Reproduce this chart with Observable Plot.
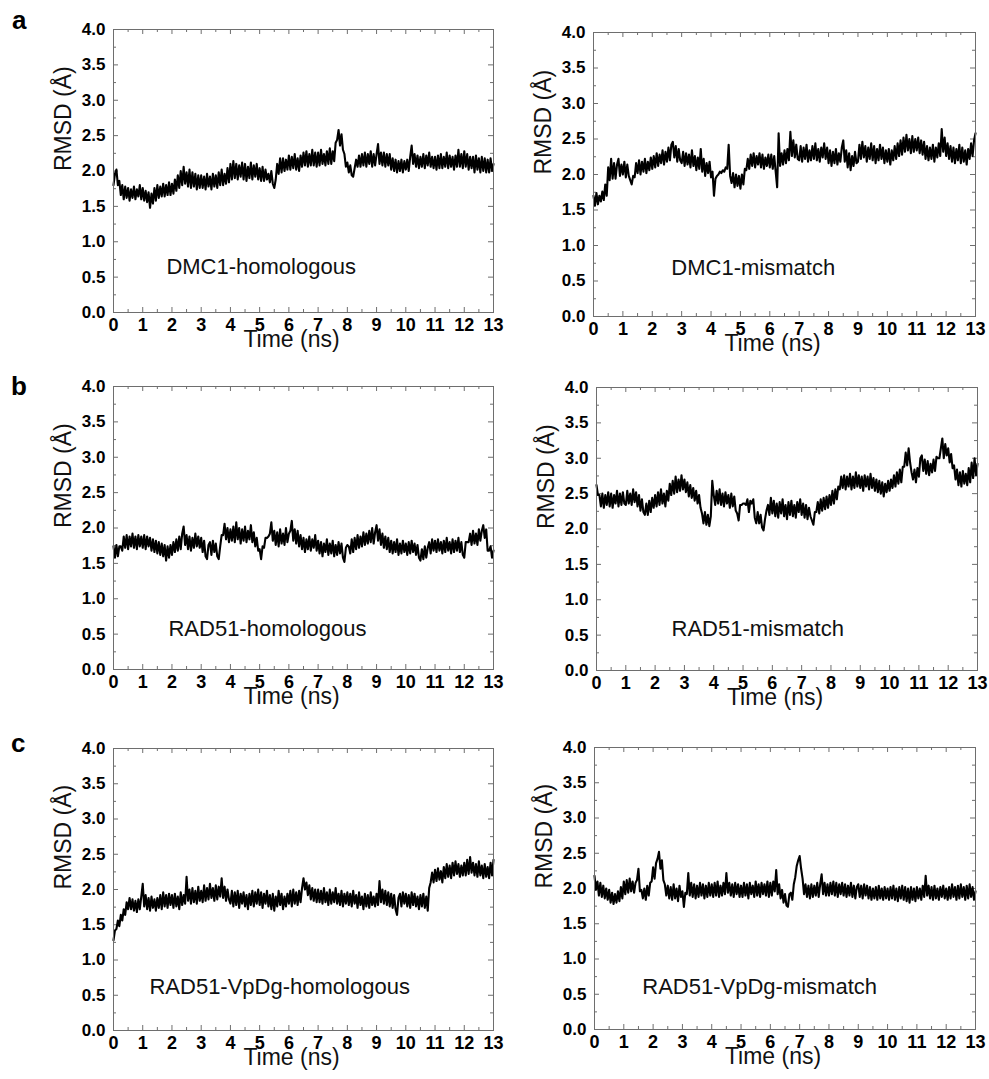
<!DOCTYPE html>
<html><head><meta charset="utf-8">
<script src="https://cdn.jsdelivr.net/npm/d3@7"></script>
<script src="https://cdn.jsdelivr.net/npm/@observablehq/plot@0.6"></script>
<style>
body{margin:0;background:#fff;}
#wrap{position:relative;width:989px;height:1079px;overflow:hidden;font-family:"Liberation Sans",Arial,sans-serif;background:#fff;}
.panel{position:absolute;}
.lab{position:absolute;font-weight:bold;font-size:26px;line-height:1;color:#000;}
</style></head><body><div id="wrap"></div>
<script>
// ---- data: sampling times (ns) ----
const timeNs = [
0,0.05,0.1,0.15,0.2,0.25,0.3,0.35,0.4,0.45,0.5,0.55,0.6,0.65,0.7,0.75,0.8,0.85,0.9,0.95,
1,1.05,1.1,1.15,1.2,1.25,1.3,1.35,1.4,1.45,1.5,1.55,1.6,1.65,1.7,1.75,1.8,1.85,1.9,1.95,
2,2.05,2.1,2.15,2.2,2.25,2.3,2.35,2.4,2.45,2.5,2.55,2.6,2.65,2.7,2.75,2.8,2.85,2.9,2.95,
3,3.05,3.1,3.15,3.2,3.25,3.3,3.35,3.4,3.45,3.5,3.55,3.6,3.65,3.7,3.75,3.8,3.85,3.9,3.95,
4,4.05,4.1,4.15,4.2,4.25,4.3,4.35,4.4,4.45,4.5,4.55,4.6,4.65,4.7,4.75,4.8,4.85,4.9,4.95,
5,5.05,5.1,5.15,5.2,5.25,5.3,5.35,5.4,5.45,5.5,5.55,5.6,5.65,5.7,5.75,5.8,5.85,5.9,5.95,
6,6.05,6.1,6.15,6.2,6.25,6.3,6.35,6.4,6.45,6.5,6.55,6.6,6.65,6.7,6.75,6.8,6.85,6.9,6.95,
7,7.05,7.1,7.15,7.2,7.25,7.3,7.35,7.4,7.45,7.5,7.55,7.6,7.65,7.7,7.75,7.8,7.85,7.9,7.95,
8,8.05,8.1,8.15,8.2,8.25,8.3,8.35,8.4,8.45,8.5,8.55,8.6,8.65,8.7,8.75,8.8,8.85,8.9,8.95,
9,9.05,9.1,9.15,9.2,9.25,9.3,9.35,9.4,9.45,9.5,9.55,9.6,9.65,9.7,9.75,9.8,9.85,9.9,9.95,
10,10.05,10.1,10.15,10.2,10.25,10.3,10.35,10.4,10.45,10.5,10.55,10.6,10.65,10.7,10.75,10.8,10.85,10.9,10.95,
11,11.05,11.1,11.15,11.2,11.25,11.3,11.35,11.4,11.45,11.5,11.55,11.6,11.65,11.7,11.75,11.8,11.85,11.9,11.95,
12,12.05,12.1,12.15,12.2,12.25,12.3,12.35,12.4,12.45,12.5,12.55,12.6,12.65,12.7,12.75,12.8,12.85,12.9,12.95,
13];

// ---- data: RMSD (Å) ----
const rmsdDmc1Homologous = [
1.80,1.96,2.02,1.80,1.86,1.66,1.80,1.60,1.78,1.62,1.76,1.58,1.74,1.62,1.78,1.60,1.74,1.64,1.80,1.60,
1.76,1.58,1.72,1.56,1.70,1.48,1.68,1.54,1.76,1.58,1.80,1.62,1.78,1.64,1.82,1.64,1.80,1.66,1.84,1.66,
1.82,1.68,1.88,1.72,1.94,1.76,2.00,1.80,2.06,1.82,1.98,1.78,2.02,1.76,1.98,1.78,1.96,1.74,1.94,1.76,
1.94,1.76,1.92,1.74,1.96,1.78,1.92,1.74,1.96,1.78,1.94,1.76,1.98,1.80,2.02,1.80,1.96,1.82,2.04,1.84,
2.10,1.88,2.14,1.90,2.10,1.88,2.08,1.92,2.12,1.88,2.10,1.86,2.06,1.90,2.12,1.88,2.08,1.92,2.10,1.88,
2.04,1.86,2.06,1.86,2.02,1.88,1.96,1.84,2.00,1.82,1.76,1.88,2.10,1.96,2.18,1.98,2.18,2.00,2.16,2.02,
2.22,2.02,2.20,2.04,2.24,2.02,2.18,2.00,2.22,2.06,2.26,2.08,2.28,2.06,2.24,2.08,2.30,2.08,2.26,2.06,
2.26,2.08,2.30,2.10,2.24,2.08,2.28,2.10,2.32,2.10,2.28,2.14,2.40,2.44,2.58,2.36,2.52,2.30,2.24,2.06,
2.12,1.98,2.08,1.94,1.92,2.04,2.16,2.06,2.22,2.06,2.24,2.08,2.26,2.06,2.24,2.10,2.28,2.06,2.24,2.08,
2.24,2.38,2.10,2.26,2.08,2.26,2.06,2.24,2.08,2.24,2.02,2.18,2.00,2.16,1.98,2.14,2.00,2.16,1.98,2.14,
2.02,2.16,2.00,2.20,2.36,2.10,2.24,2.06,2.22,2.04,2.20,2.06,2.24,2.04,2.22,2.08,2.26,2.06,2.20,2.04,
2.20,2.02,2.22,2.04,2.24,2.04,2.20,2.06,2.26,2.04,2.22,2.06,2.20,2.02,2.22,2.06,2.30,2.06,2.24,2.04,
2.28,2.06,2.24,2.02,2.20,2.04,2.20,1.98,2.22,2.02,2.18,1.98,2.20,2.00,2.18,1.98,2.16,1.98,2.18,2.00,
2.10];

const rmsdDmc1Mismatch = [
1.70,1.56,1.74,1.58,1.70,1.62,1.76,1.64,1.86,1.70,2.10,1.92,2.22,1.94,2.16,1.94,2.14,2.22,1.98,2.14,
2.00,2.18,1.96,2.14,1.98,1.92,1.86,1.98,1.96,2.16,2.02,2.20,2.00,2.18,2.04,2.22,2.02,2.18,2.06,2.24,
2.08,2.26,2.10,2.30,2.12,2.28,2.16,2.34,2.14,2.32,2.18,2.38,2.20,2.42,2.46,2.24,2.40,2.18,2.36,2.20,
2.16,2.32,2.12,2.30,2.14,2.28,2.10,2.34,2.12,2.26,2.06,2.24,2.08,2.36,2.04,2.22,1.98,2.16,2.02,2.18,
1.96,2.04,1.70,1.94,1.98,2.00,2.04,2.02,2.06,2.04,2.10,2.08,2.42,1.98,1.88,2.02,1.82,2.00,1.84,1.98,
1.80,2.00,1.86,2.08,2.06,2.22,2.08,2.28,2.12,2.30,2.10,2.26,2.14,2.30,2.10,2.28,2.08,2.24,2.12,2.28,
2.10,2.28,2.08,2.26,2.04,1.82,2.58,2.12,2.30,2.14,2.34,2.16,2.36,2.20,2.60,2.26,2.48,2.24,2.42,2.22,
2.20,2.40,2.18,2.38,2.22,2.42,2.18,2.34,2.20,2.40,2.22,2.44,2.20,2.36,2.18,2.38,2.24,2.44,2.22,2.38,
2.16,2.34,2.12,2.32,2.16,2.36,2.14,2.30,2.18,2.38,2.48,2.18,2.34,2.10,2.30,2.06,2.26,2.12,2.32,2.16,
2.18,2.42,2.22,2.46,2.24,2.40,2.18,2.38,2.22,2.44,2.20,2.40,2.16,2.36,2.20,2.42,2.22,2.38,2.16,2.34,
2.18,2.36,2.14,2.34,2.20,2.40,2.22,2.44,2.26,2.48,2.28,2.52,2.32,2.56,2.34,2.50,2.30,2.54,2.32,2.50,
2.34,2.52,2.30,2.48,2.28,2.46,2.22,2.40,2.20,2.38,2.22,2.42,2.18,2.38,2.24,2.44,2.26,2.64,2.32,2.52,
2.26,2.44,2.22,2.40,2.18,2.38,2.16,2.36,2.20,2.42,2.16,2.38,2.18,2.34,2.14,2.36,2.22,2.44,2.26,2.48,
2.58];

const rmsdRad51Homologous = [
1.74,1.58,1.76,1.60,1.74,1.74,1.68,1.88,1.72,1.90,1.70,1.88,1.74,1.92,1.72,1.88,1.70,1.90,1.74,1.88,
1.72,1.90,1.70,1.88,1.74,1.86,1.68,1.84,1.66,1.82,1.64,1.80,1.62,1.78,1.60,1.76,1.54,1.74,1.58,1.76,
1.62,1.80,1.66,1.84,1.68,1.88,1.70,1.92,2.02,1.76,1.90,1.70,1.88,1.68,1.86,1.72,1.92,1.74,1.88,1.72,
1.86,1.66,1.82,1.60,1.56,1.76,1.80,1.62,1.82,1.66,1.78,1.60,1.56,1.74,1.90,1.90,2.06,1.84,2.00,1.80,
1.98,1.82,2.02,1.80,2.08,1.84,2.00,1.78,1.98,1.82,2.02,1.80,1.96,1.84,2.04,1.80,1.94,1.74,1.86,1.68,
1.70,1.56,1.74,1.72,1.86,1.86,1.88,1.92,2.08,1.82,1.96,1.76,1.94,1.74,1.98,1.78,1.92,1.76,2.00,1.80,
1.92,1.96,2.10,1.82,1.98,1.78,1.96,1.74,1.90,1.70,1.86,1.66,1.84,1.70,1.88,1.68,1.84,1.72,1.90,1.68,
1.82,1.64,1.80,1.60,1.78,1.66,1.84,1.62,1.78,1.64,1.82,1.60,1.76,1.62,1.80,1.64,1.78,1.58,1.52,1.72,
1.76,1.74,1.64,1.84,1.66,1.86,1.70,1.90,1.72,1.88,1.74,1.94,1.76,1.92,1.78,1.96,1.80,2.00,1.78,1.94,
2.04,1.82,1.98,1.76,1.92,1.72,1.88,1.70,1.86,1.66,1.82,1.64,1.80,1.66,1.84,1.62,1.78,1.64,1.82,1.66,
1.78,1.62,1.80,1.64,1.82,1.66,1.78,1.62,1.76,1.58,1.54,1.70,1.56,1.74,1.58,1.72,1.80,1.64,1.84,1.68,
1.82,1.66,1.84,1.68,1.80,1.64,1.82,1.66,1.86,1.68,1.80,1.64,1.84,1.66,1.82,1.68,1.86,1.66,1.80,1.62,
1.58,1.80,1.80,1.80,1.92,1.76,1.96,1.78,1.92,1.76,1.98,1.82,1.96,2.04,1.86,1.98,1.68,1.68,1.74,1.58,
1.68];

const rmsdRad51Mismatch = [
2.62,2.48,2.48,2.32,2.50,2.30,2.48,2.34,2.52,2.32,2.50,2.30,2.48,2.36,2.54,2.32,2.50,2.34,2.52,2.36,
2.34,2.54,2.36,2.50,2.34,2.56,2.38,2.52,2.32,2.48,2.26,2.42,2.24,2.20,2.36,2.20,2.40,2.24,2.44,2.30,
2.48,2.32,2.52,2.34,2.56,2.36,2.50,2.32,2.54,2.40,2.64,2.48,2.68,2.50,2.74,2.52,2.70,2.54,2.76,2.56,
2.70,2.52,2.66,2.46,2.62,2.44,2.58,2.40,2.54,2.36,2.48,2.30,2.22,2.08,2.24,2.06,2.20,2.04,2.18,2.68,
2.48,2.34,2.54,2.36,2.56,2.34,2.50,2.32,2.52,2.36,2.48,2.30,2.50,2.32,2.46,2.26,2.22,2.12,2.34,2.34,
2.36,2.36,2.34,2.42,2.24,2.40,2.36,2.42,2.16,2.08,2.24,2.08,2.20,2.02,1.98,2.14,2.26,2.34,2.20,2.44,
2.22,2.40,2.18,2.36,2.16,2.38,2.22,2.42,2.18,2.34,2.14,2.38,2.20,2.40,2.18,2.34,2.16,2.38,2.24,2.42,
2.20,2.36,2.16,2.34,2.14,2.30,2.18,2.12,2.06,2.24,2.24,2.38,2.22,2.42,2.26,2.44,2.28,2.46,2.30,2.48,
2.34,2.54,2.36,2.56,2.42,2.60,2.56,2.74,2.58,2.76,2.56,2.74,2.60,2.78,2.56,2.74,2.58,2.80,2.60,2.76,
2.58,2.74,2.54,2.76,2.60,2.74,2.56,2.78,2.58,2.72,2.54,2.70,2.52,2.68,2.50,2.66,2.46,2.64,2.52,2.68,
2.54,2.70,2.58,2.76,2.60,2.80,2.64,2.84,2.66,2.88,2.88,3.08,2.90,3.14,2.94,2.80,2.70,2.84,2.66,2.86,
2.74,3.00,3.04,2.82,2.98,2.78,2.96,2.76,2.92,2.80,2.98,2.82,3.02,3.00,3.00,3.14,3.28,3.00,3.20,3.04,
3.14,2.94,3.06,2.86,2.90,2.70,2.84,2.62,2.80,2.60,2.82,2.64,2.78,2.62,2.86,2.66,2.94,2.72,3.00,2.76,
2.92];

const rmsdVpdgHomologous = [
1.28,1.42,1.44,1.56,1.48,1.64,1.56,1.72,1.64,1.82,1.72,1.88,1.72,1.86,1.70,1.84,1.68,1.86,1.72,1.90,
2.08,1.76,1.92,1.72,1.88,1.70,1.90,1.74,1.86,1.70,1.88,1.74,1.92,1.72,1.96,1.76,1.92,1.74,1.94,1.78,
1.92,1.74,1.94,1.76,1.90,1.72,1.96,1.78,1.92,1.80,2.18,1.84,2.00,1.80,2.02,1.82,1.98,1.80,2.04,1.84,
1.98,1.82,2.06,1.84,2.02,1.86,2.08,1.88,2.02,1.84,2.06,1.86,2.04,1.90,2.16,1.88,2.04,1.84,2.00,1.86,
1.80,1.98,1.76,1.96,1.78,1.98,1.74,1.94,1.80,1.96,1.76,1.92,1.72,1.94,1.78,1.98,1.76,1.96,1.80,2.00,
1.78,1.96,1.74,1.94,1.80,1.98,1.76,1.92,1.72,1.94,1.70,1.90,1.76,1.98,1.78,1.94,1.72,1.90,1.76,1.94,
1.80,1.98,1.76,2.00,1.80,1.96,1.78,1.98,1.82,2.02,2.16,2.00,2.10,1.92,2.06,1.86,2.02,1.84,2.00,1.82,
2.00,1.82,1.98,1.80,2.02,1.82,1.96,1.78,2.00,1.80,1.96,1.82,2.02,1.80,1.94,1.78,1.98,1.76,1.94,1.80,
1.96,1.78,1.94,1.76,1.98,1.80,1.92,1.74,1.96,1.78,1.90,1.72,1.94,1.76,1.92,1.74,1.96,1.78,1.90,1.76,
1.94,1.78,2.12,1.82,2.00,1.80,1.98,1.78,1.96,1.76,1.94,1.74,1.92,1.72,1.64,1.88,1.94,1.76,1.96,1.80,
1.94,1.76,1.92,1.74,1.96,1.78,1.94,1.76,1.90,1.72,1.92,1.76,1.94,1.74,1.90,1.70,2.02,2.10,2.24,2.10,
2.28,2.12,2.30,2.14,2.26,2.10,2.32,2.16,2.36,2.18,2.34,2.16,2.38,2.20,2.40,2.22,2.36,2.18,2.34,2.20,
2.38,2.20,2.42,2.22,2.46,2.24,2.38,2.20,2.36,2.18,2.40,2.20,2.34,2.16,2.36,2.18,2.32,2.16,2.38,2.20,
2.42];

const rmsdVpdgMismatch = [
2.18,1.98,2.10,1.90,2.08,1.88,2.04,1.86,2.00,1.84,1.98,1.80,1.94,1.78,1.92,1.80,1.96,1.82,2.02,1.86,
2.10,1.92,2.12,1.94,2.14,1.96,2.10,1.94,2.08,2.12,2.28,1.96,1.98,1.86,2.00,1.84,2.04,1.90,2.08,2.10,
2.30,2.14,2.36,2.42,2.52,2.28,2.40,2.12,2.06,1.90,2.04,1.86,2.02,1.84,2.06,1.86,2.00,1.82,2.04,1.88,
1.96,1.74,1.94,1.92,2.22,1.90,2.08,1.88,2.06,1.86,2.04,1.88,2.08,1.90,2.06,1.86,2.04,1.88,2.08,1.90,
2.06,1.88,2.08,1.90,2.10,1.88,2.04,1.90,2.08,1.92,2.22,1.94,2.08,1.90,2.06,1.88,2.08,1.92,2.06,1.88,
2.04,1.88,2.08,1.90,2.06,1.86,2.08,1.92,2.04,1.88,2.10,1.90,2.06,1.88,2.08,1.92,2.06,1.90,2.10,1.88,
2.08,1.90,2.10,1.96,2.26,1.92,2.06,1.86,1.98,1.80,1.92,1.76,1.74,1.92,1.94,1.84,2.06,2.16,2.32,2.40,
2.46,2.28,2.14,1.92,2.06,1.88,2.04,1.86,2.06,1.88,2.04,1.90,2.08,1.88,2.06,2.20,1.92,2.08,1.90,2.06,
1.90,2.08,1.92,2.10,1.90,2.08,1.88,2.06,1.92,2.08,1.90,2.06,1.88,2.04,1.90,2.08,1.88,2.04,1.86,2.02,
2.06,1.88,2.04,1.86,2.06,1.90,2.04,1.86,2.02,1.84,2.00,1.86,2.02,1.84,2.04,1.86,2.00,1.84,2.02,1.86,
2.00,1.84,2.02,1.86,2.04,1.84,2.00,1.82,2.02,1.86,2.04,1.84,2.02,1.82,2.00,1.80,2.02,1.84,2.00,1.82,
2.02,1.86,2.00,1.84,2.04,1.88,2.18,1.90,2.04,1.86,2.02,1.84,2.04,1.86,2.00,1.84,2.02,1.88,2.04,1.86,
2.00,1.84,2.02,1.86,2.06,1.88,2.02,1.84,2.04,1.86,2.06,1.88,2.02,1.84,2.04,1.86,2.06,1.88,2.02,1.84,
1.96];

const panelNames = ["DMC1-homologous","DMC1-mismatch","RAD51-homologous","RAD51-mismatch","RAD51-VpDg-homologous","RAD51-VpDg-mismatch"];
const panelSeries = [rmsdDmc1Homologous, rmsdDmc1Mismatch, rmsdRad51Homologous, rmsdRad51Mismatch, rmsdVpdgHomologous, rmsdVpdgMismatch];
const rowLetters = ["a","b","c"];
const xTickValues = [0,1,2,3,4,5,6,7,8,9,10,11,12,13];
const xMinorValues = [0.5,1.5,2.5,3.5,4.5,5.5,6.5,7.5,8.5,9.5,10.5,11.5,12.5];
const yTickValues = [0,0.5,1,1.5,2,2.5,3,3.5,4];
const yMinorValues = [0.25,0.75,1.25,1.75,2.25,2.75,3.25,3.75];
const xLabel = "Time (ns)";
const yLabel = "RMSD (Å)";

// ---- layout (pixels) ----
const geo = [
  {left:0,   W:500, x0:113, x1:493, yTop:29,  yBot:312,  lx:1.81, ly:0.54},
  {left:490, W:499, x0:593, x1:975, yTop:32,  yBot:316,  lx:2.65, ly:0.59},
  {left:0,   W:500, x0:113, x1:493, yTop:386, yBot:669,  lx:1.88, ly:0.48},
  {left:490, W:499, x0:596, x1:977, yTop:387, yBot:670,  lx:2.56, ly:0.49},
  {left:0,   W:500, x0:113, x1:493, yTop:748, yBot:1030, lx:1.23, ly:0.52},
  {left:490, W:499, x0:594, x1:975, yTop:747, yBot:1029, lx:1.63, ly:0.51}
];
const letterPos = [{x:12, y:7},{x:11, y:373},{x:11, y:730}];

const wrap = document.getElementById("wrap");
const frameColor = "#6e6e6e";
const fam = "'Liberation Sans', Arial, sans-serif";
const MT = 15, MB = 46;

panelSeries.forEach((vals, k) => {
  const g = geo[k];
  const data = timeNs.map((t, i) => ({t, v: vals[i]})).filter(d => d.v != null);
  const plotW = g.x1 - g.x0, plotH = g.yBot - g.yTop;
  const chart = Plot.plot({
    width: g.W,
    height: plotH + MT + MB,
    marginLeft: g.x0 - g.left,
    marginRight: g.left + g.W - g.x1,
    marginTop: MT,
    marginBottom: MB,
    style: {fontFamily: fam, background: "transparent", color: "#000", overflow: "visible"},
    x: {domain: [0, 13]},
    y: {domain: [0, 4]},
    marks: [
      Plot.ruleX(xTickValues, {insetTop: plotH - 5, stroke: frameColor}),
      Plot.ruleX(xTickValues, {insetBottom: plotH - 5, stroke: frameColor}),
      Plot.ruleX(xMinorValues, {insetTop: plotH - 3, stroke: frameColor}),
      Plot.ruleX(xMinorValues, {insetBottom: plotH - 3, stroke: frameColor}),
      Plot.ruleY(yTickValues, {insetRight: plotW - 5, stroke: frameColor}),
      Plot.ruleY(yTickValues, {insetLeft: plotW - 5, stroke: frameColor}),
      Plot.ruleY(yMinorValues, {insetRight: plotW - 3, stroke: frameColor}),
      Plot.ruleY(yMinorValues, {insetLeft: plotW - 3, stroke: frameColor}),
      Plot.axisX({ticks: xTickValues, tickSize: 0, tickPadding: 6, fontSize: 18, fontWeight: "bold", label: null, tickFormat: d3.format("d")}),
      Plot.axisY({ticks: yTickValues, tickSize: 0, tickPadding: 8, fontSize: 17, fontWeight: "bold", label: null, tickFormat: d3.format(".1f")}),
      Plot.line(data, {x: "t", y: "v", stroke: "#000", strokeWidth: 2.1}),
      Plot.frame({stroke: frameColor}),
      Plot.text([panelNames[k]], {text: d => d, x: g.lx, y: g.ly, textAnchor: "start", lineAnchor: "bottom", fontSize: 22, fill: "#111"}),
      Plot.text([xLabel], {text: d => d, frameAnchor: "bottom", dx: -12, dy: 34, lineAnchor: "bottom", fontSize: 23, fill: "#111"}),
      Plot.text([yLabel], {text: d => d, frameAnchor: "left", dx: -43, rotate: -90, lineAnchor: "bottom", fontSize: 23, fill: "#111"})
    ]
  });
  const div = document.createElement("div");
  div.className = "panel";
  div.style.left = g.left + "px";
  div.style.top = (g.yTop - MT) + "px";
  div.appendChild(chart);
  wrap.appendChild(div);
});

rowLetters.forEach((L, r) => {
  const d = document.createElement("div");
  d.className = "lab";
  d.style.left = letterPos[r].x + "px";
  d.style.top = letterPos[r].y + "px";
  d.textContent = L;
  wrap.appendChild(d);
});
</script></body></html>
